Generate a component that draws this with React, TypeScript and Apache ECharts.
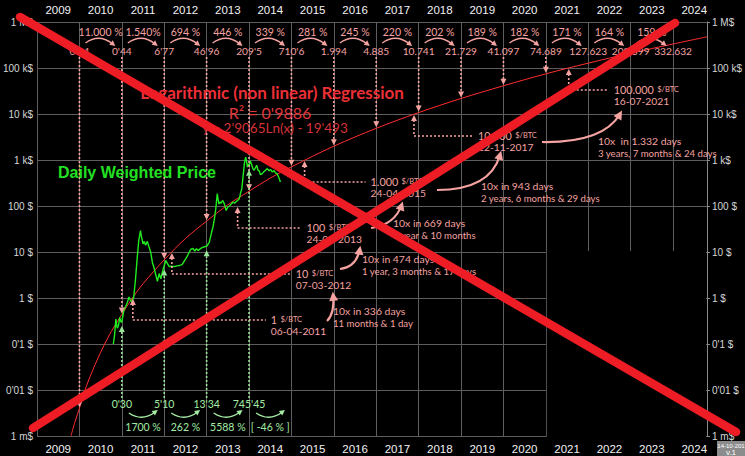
import React, { useEffect, useRef } from "react";
import * as echarts from "echarts";

// ---------------- DATA ----------------
const yearTicks = [2009, 2010, 2011, 2012, 2013, 2014, 2015, 2016, 2017, 2018, 2019, 2020, 2021, 2022, 2023, 2024];
const yTickLabels = ["1 m$", "0'01 $", "0'1 $", "1 $", "10 $", "100 $", "1 k$", "10 k$", "100 k$", "1 M$"];

// logarithmic regression curve
const regressionYears = [2009.8, 2009.9, 2010, 2010.1, 2010.25, 2010.5, 2010.75, 2011, 2011.25, 2011.5, 2012, 2012.5, 2013, 2013.5, 2014, 2014.5, 2015, 2016, 2017, 2018, 2019, 2020, 2021, 2022, 2023, 2024, 2024.8];
const regressionPrices = [0.001, 0.0021, 0.004, 0.0082, 0.0195, 0.066, 0.186, 0.44, 1.0, 2.04, 6.77, 19.6, 46.96, 106, 209.5, 405, 710.6, 1994, 4885, 10741, 21729, 41097, 74689, 127623, 209399, 332632, 476000];

// daily weighted price (green)
const priceYears = [2010.8, 2010.83, 2010.86, 2010.89, 2010.92, 2010.95, 2010.98, 2011.0, 2011.05, 2011.09, 2011.13, 2011.17, 2011.2, 2011.24, 2011.28, 2011.32, 2011.36, 2011.4, 2011.44, 2011.46, 2011.5, 2011.53, 2011.56, 2011.6, 2011.64, 2011.68, 2011.72, 2011.76, 2011.8, 2011.84, 2011.88, 2011.92, 2011.96, 2012.0, 2012.04, 2012.08, 2012.12, 2012.18, 2012.24, 2012.3, 2012.36, 2012.42, 2012.48, 2012.53, 2012.58, 2012.63, 2012.68, 2012.72, 2012.76, 2012.8, 2012.86, 2012.92, 2012.97, 2013.0, 2013.06, 2013.11, 2013.15, 2013.19, 2013.22, 2013.25, 2013.27, 2013.29, 2013.31, 2013.34, 2013.38, 2013.42, 2013.46, 2013.5, 2013.54, 2013.58, 2013.62, 2013.66, 2013.7, 2013.74, 2013.77, 2013.8, 2013.83, 2013.86, 2013.89, 2013.92, 2013.94, 2013.96, 2013.98, 2014.0, 2014.03, 2014.06, 2014.09, 2014.12, 2014.15, 2014.18, 2014.21, 2014.24, 2014.27, 2014.31, 2014.35, 2014.39, 2014.43, 2014.47, 2014.51, 2014.55, 2014.59, 2014.63, 2014.66, 2014.7, 2014.74];
const priceValues = [0.1, 0.16, 0.35, 0.22, 0.25, 0.38, 0.3, 0.3, 0.55, 0.65, 0.8, 1.05, 0.9, 0.8, 1.05, 2.4, 7, 18, 29, 22, 15, 17, 14, 17, 13, 10, 6, 4.5, 3.2, 2.3, 3.4, 2.6, 3.8, 5.1, 6.5, 5.5, 4.8, 4.9, 4.8, 5.0, 5.1, 5.3, 6.5, 7.7, 9.5, 11.5, 11.9, 10.5, 11.8, 10.8, 12.0, 12.7, 13.2, 13.34, 16, 25, 35, 57, 95, 185, 140, 110, 122, 115, 132, 110, 80, 95, 100, 110, 122, 115, 125, 135, 144, 190, 238, 450, 835, 1160, 950, 700, 820, 745, 950, 800, 650, 597, 680, 767, 600, 580, 480, 506, 560, 600, 650, 590, 620, 548, 590, 520, 506, 420, 332];

// regression value at each year start and growth per year
const yearStartYears = [2010, 2011, 2012, 2013, 2014, 2015, 2016, 2017, 2018, 2019, 2020, 2021, 2022, 2023, 2024];
const yearStartValues = [0.004, 0.44, 6.77, 46.96, 209.5, 710.6, 1994, 4885, 10741, 21729, 41097, 74689, 127623, 209399, 332632];
const yearStartLabels = ["0'04", "0'44", "6'77", "46'96", "209'5", "710'6", "1.994", "4.885", "10.741", "21.729", "41.097", "74.689", "127.623", "209.399", "332.632"];
const yearGrowthLabels = ["11.000 %", "1.540%", "694 %", "446 %", "339 %", "281 %", "245 %", "220 %", "202 %", "189 %", "182 %", "171 %", "164 %", "159 %"];

// actual price at year starts (green)
const greenYears = [2011, 2012, 2013, 2014];
const greenValues = [0.3, 5.1, 13.34, 745.45];
const greenLabels = ["0'30", "5'10", "13'34", "745'45"];
const greenGrowthLabels = ["1700 %", "262 %", "5588 %", "[ -46 % ]"];

// milestones on the regression
const milestoneYears = [2011.26, 2012.18, 2013.73, 2015.31, 2017.89, 2021.54];
const milestonePrices = [1, 10, 100, 1000, 10000, 100000];
const milestoneLabels = ["1", "10", "100", "1.000", "10.000", "100.000"];
const milestoneDates = ["06-04-2011", "07-03-2012", "24-09-2013", "24-04-2015", "22-11-2017", "16-07-2021"];

const tenXTitles = ["10x in 336 days", "10x in 474 days", "10x in 669 days", "10x in 943 days", "10x  in 1.332 days"];
const tenXDetails = ["11 months & 1 day", "1 year, 3 months & 17 days", "1 year & 10 months", "2 years, 6 months & 29 days", "3 years, 7 months & 24 days"];

// ---------------- LAYOUT / STYLE ----------------
const PINK = "#f4a3a0";
const GREEN_TXT = "#a4eca4";
const GREEN_DOT = "#96e496";
const GRID = "#5e5e5e";
const FONT = "Lato, 'Open Sans', sans-serif";
const AXFONT = "'Liberation Sans', Arial, sans-serif";

const milestoneLabelDx = [138, 124, 69, 66, 64, 45];
const tenXTextPos = [[333, 311], [362, 259], [393, 223], [481, 186], [598, 141]];
// sx, sy, cx, cy, ex, ey
const tenXArrows = [
  [327, 321, 335, 313, 333, 294],
  [340, 269, 357, 267, 360, 248],
  [371, 228, 395, 225, 402, 204],
  [437, 190, 490, 190, 500, 155],
  [542, 142, 603, 143, 620, 114],
];

function head(tx: number, ty: number, dx: number, dy: number, len: number, hw: number) {
  const l = Math.hypot(dx, dy) || 1;
  const ux = dx / l, uy = dy / l;
  const bx = tx - ux * len, by = ty - uy * len;
  return [[tx, ty], [bx - uy * hw, by + ux * hw], [bx + uy * hw, by - ux * hw]];
}

function txt(text: string, x: number, y: number, fill: string, size: number, align = "center", weight = "normal", family = FONT, extra: any = {}) {
  return {
    type: "text",
    x,
    y,
    z: extra.z,
    style: { text, fill, fontSize: size, fontWeight: weight, fontFamily: family, align, verticalAlign: "middle", textAlign: align, textVerticalAlign: "middle", ...(extra.style || {}) },
  };
}

export default function App() {
  const ref = useRef<HTMLDivElement>(null);

  useEffect(() => {
    document.body.style.margin = "0";
    const el = ref.current!;
    const chart = echarts.init(el, null, { renderer: "svg" });

    const regData = regressionYears.map((y, i) => [y, regressionPrices[i]]);
    const priceData = priceYears.map((y, i) => [y, priceValues[i]]);

    const yLabel = (v: number) => {
      const k = Math.round(Math.log10(v)) + 3;
      return yTickLabels[k] ?? "";
    };

    const topData = yearStartYears.map((y, i) => [y, yearStartValues[i], i]);
    const greenData = greenYears.map((y, i) => [y, greenValues[i], i]);
    const milestoneData = milestoneYears.map((y, i) => [y, milestonePrices[i], i]);

    const option: any = {
      animation: false,
      backgroundColor: "#000",
      grid: { left: 37, right: 33, top: 22, bottom: 20, containLabel: false },
      xAxis: {
        type: "value",
        min: 2009,
        max: 2024.8,
        interval: 1,
        axisLabel: { show: false },
        axisTick: { show: false },
        axisLine: { show: false },
        splitLine: { show: true, lineStyle: { color: GRID, width: 1 } },
      },
      yAxis: [
        {
          type: "log",
          logBase: 10,
          min: 0.001,
          max: 1000000,
          position: "left",
          axisLine: { show: false },
          axisTick: { show: false },
          splitLine: { show: true, lineStyle: { color: GRID, width: 1 } },
          axisLabel: { formatter: yLabel, color: "#d6d6d6", fontSize: 10, fontFamily: AXFONT, margin: 4 },
        },
        {
          type: "log",
          logBase: 10,
          min: 0.001,
          max: 1000000,
          position: "right",
          axisLine: { show: true, lineStyle: { color: "#8a8a8a", width: 1 } },
          axisTick: { show: true, length: 3, lineStyle: { color: "#8a8a8a" } },
          splitLine: { show: false },
          axisLabel: { formatter: yLabel, color: "#d6d6d6", fontSize: 10, fontFamily: AXFONT, margin: 5 },
        },
      ],
      series: [
        {
          type: "custom",
          name: "blank",
          z: 1,
          silent: true,
          clip: false,
          data: [[2021, 10, 2024.8, 0.001]],
          renderItem: (params: any, api: any) => {
            const p1 = api.coord([api.value(0), api.value(1)]);
            const p2 = api.coord([api.value(2), api.value(3)]);
            return {
              type: "rect",
              shape: { x: p1[0] + 1, y: p1[1] - 1, width: p2[0] - p1[0] - 2, height: p2[1] - p1[1] + 2 },
              style: { fill: "#000" },
            };
          },
        },
        {
          type: "line",
          name: "regression",
          z: 3,
          data: regData,
          showSymbol: false,
          smooth: 0.35,
          lineStyle: { color: "#ff2e2e", width: 1 },
          silent: true,
        },
        {
          type: "line",
          name: "Daily Weighted Price",
          z: 4,
          data: priceData,
          showSymbol: false,
          lineStyle: { color: "#20ec20", width: 1.4 },
          silent: true,
        },
        {
          type: "custom",
          name: "yearStart",
          z: 5,
          silent: true,
          clip: false,
          data: topData,
          renderItem: (params: any, api: any) => {
            const yr = api.value(0), v = api.value(1), i = api.value(2);
            const p = api.coord([yr, v]);
            const t = api.coord([yr, 1000000]);
            const x = t[0], top = t[1];
            const band = api.coord([yr + 1, 1000000])[0] - x;
            const children: any[] = [];
            children.push(txt(yearStartLabels[i], x, top + 29, PINK, 10.2));
            if (i < yearGrowthLabels.length) {
              children.push(txt(yearGrowthLabels[i], x + band / 2, top + 10, PINK, 10.5));
              const sx = x + 6, ex = x + band - 9, sy = top + 21, ey = top + 22;
              const cx = (sx + ex) / 2, cy = top + 11;
              children.push({ type: "bezierCurve", shape: { x1: sx, y1: sy, x2: ex, y2: ey, cpx1: cx, cpy1: cy }, style: { stroke: PINK, fill: null, lineWidth: 1.3 } });
              children.push({ type: "polygon", shape: { points: head(ex + 2.5, ey + 2, ex - cx, ey - cy, 5.5, 2.8) }, style: { fill: PINK } });
            }
            if (p[1] > top + 45) {
              children.push({ type: "line", shape: { x1: x, y1: top + 35, x2: x, y2: p[1] - 6 }, style: { stroke: PINK, lineWidth: 1.6, lineDash: [2, 2] } });
              children.push({ type: "polygon", shape: { points: head(x, p[1] - 1, 0, 1, 6, 3) }, style: { fill: PINK } });
            }
            return { type: "group", children };
          },
        },
        {
          type: "custom",
          name: "greenYears",
          z: 5,
          silent: true,
          clip: false,
          data: greenData,
          renderItem: (params: any, api: any) => {
            const yr = api.value(0), v = api.value(1), i = api.value(2);
            const p = api.coord([yr, v]);
            const b = api.coord([yr, 0.001]);
            const x = p[0], bottom = b[1];
            const band = api.coord([yr + 1, 0.001])[0] - x;
            const children: any[] = [];
            children.push({ type: "line", shape: { x1: x, y1: bottom - 38, x2: x, y2: p[1] + 10 }, style: { stroke: GREEN_DOT, lineWidth: 1.6, lineDash: [2, 2] } });
            children.push({ type: "polygon", shape: { points: head(x, p[1] + 4, 0, -1, 6, 3) }, style: { fill: GREEN_DOT } });
            children.push(txt(greenLabels[i], x, bottom - 32, GREEN_TXT, 10.5));
            children.push(txt(greenGrowthLabels[i], x + band / 2, bottom - 9, GREEN_TXT, 10.5));
            const sx = x + 7, ex = x + band - 9, sy = bottom - 23, ey = bottom - 24;
            const cx = (sx + ex) / 2, cy = bottom - 14;
            children.push({ type: "bezierCurve", shape: { x1: sx, y1: sy, x2: ex, y2: ey, cpx1: cx, cpy1: cy }, style: { stroke: GREEN_TXT, fill: null, lineWidth: 1.3 } });
            children.push({ type: "polygon", shape: { points: head(ex + 2.5, ey - 2, ex - cx, ey - cy, 5.5, 2.8) }, style: { fill: GREEN_TXT } });
            return { type: "group", children };
          },
        },
        {
          type: "custom",
          name: "milestones",
          z: 6,
          silent: true,
          clip: false,
          data: milestoneData,
          renderItem: (params: any, api: any) => {
            const yr = api.value(0), v = api.value(1), i = api.value(2);
            const p = api.coord([yr, v]);
            const dx = milestoneLabelDx[i];
            const dy = 22;
            const children: any[] = [];
            children.push({ type: "polyline", shape: { points: [[p[0], p[1] + 6], [p[0], p[1] + dy], [p[0] + dx - 5, p[1] + dy]] }, style: { stroke: PINK, fill: null, lineWidth: 1.6, lineDash: [2, 2] } });
            children.push({ type: "polygon", shape: { points: head(p[0], p[1] + 1, 0, -1, 6, 3) }, style: { fill: PINK } });
            children.push({
              type: "text",
              x: p[0] + dx,
              y: p[1] + dy - 1,
              style: {
                text: "{n|" + milestoneLabels[i] + "} {u|$/BTC}",
                align: "left",
                verticalAlign: "middle",
                textAlign: "left",
                textVerticalAlign: "middle",
                fill: PINK,
                rich: {
                  n: { fontSize: 10.8, fontFamily: FONT, fill: PINK, textFill: PINK },
                  u: { fontSize: 7.5, fontFamily: FONT, fill: PINK, textFill: PINK },
                },
              },
            });
            children.push(txt(milestoneDates[i], p[0] + dx, p[1] + dy + 11, PINK, 10.3, "left"));
            return { type: "group", children };
          },
        },
        {
          type: "custom",
          name: "years",
          z: 6,
          silent: true,
          clip: false,
          data: yearTicks.map((y) => [y, 1]),
          renderItem: (params: any, api: any) => {
            const yr = api.value(0);
            const t = api.coord([yr + 0.5, 1000000]);
            const b = api.coord([yr + 0.5, 0.001]);
            return {
              type: "group",
              children: [
                txt(String(yr), t[0], t[1] - 12, "#f2f2f2", 11.5, "center", "normal", AXFONT),
                txt(String(yr), b[0], b[1] + 13, "#f2f2f2", 11.5, "center", "normal", AXFONT),
              ],
            };
          },
        },
      ],
      graphic: [
        txt("Logarithmic (non linear) Regression", 272, 92, "#ec2f36", 17, "center", "bold", FONT, { z: 20 }),
        txt("R\u00b2 = 0'9886", 270, 112, "#e0363a", 16, "center", "normal", FONT, { z: 20 }),
        txt("y = 2'9065Ln(x) - 19'493", 275, 128, "#d53236", 13.5, "center", "normal", FONT, { z: 20 }),
        txt("Daily Weighted Price", 58, 172, "#22e022", 16, "left", "bold", AXFONT, { z: 20 }),
        ...tenXTitles.map((t, i) => txt(t, tenXTextPos[i][0], tenXTextPos[i][1], PINK, 10.4, "left", "normal", FONT, { z: 20 })),
        ...tenXDetails.map((t, i) => txt(t, tenXTextPos[i][0], tenXTextPos[i][1] + 12, PINK, 9.6, "left", "normal", FONT, { z: 20 })),
        ...tenXArrows.map((a) => ({
          type: "bezierCurve",
          z: 20,
          shape: { x1: a[0], y1: a[1], cpx1: a[2], cpy1: a[3], x2: a[4], y2: a[5] },
          style: { stroke: PINK, fill: null, lineWidth: 2.2 },
        })),
        ...tenXArrows.map((a) => ({
          type: "polygon",
          z: 20,
          shape: { points: head(a[4] + (a[4] - a[2]) * 0.12, a[5] + (a[5] - a[3]) * 0.12, a[4] - a[2], a[5] - a[3], 9, 4.5) },
          style: { fill: PINK },
        })),
        { type: "rect", z: 20, shape: { x: 717, y: 441, width: 28, height: 15 }, style: { fill: "#8c8c8c" } },
        txt("14-10-201", 731, 446, "#fff", 6, "center", "normal", AXFONT, { z: 21 }),
        txt("v.1", 731, 452.5, "#fff", 8, "center", "normal", AXFONT, { z: 21 }),
        { type: "line", z: 100, shape: { x1: 20, y1: 17, x2: 736, y2: 432 }, style: { stroke: "#ee1c25", lineWidth: 8.5, lineCap: "round" } },
        { type: "line", z: 100, shape: { x1: 33, y1: 428, x2: 675, y2: 23 }, style: { stroke: "#ee1c25", lineWidth: 8.5, lineCap: "round" } },
      ],
    };

    chart.setOption(option);
    return () => chart.dispose();
  }, []);

  return <div ref={ref} style={{ width: 745, height: 456, background: "#000" }} />;
}
